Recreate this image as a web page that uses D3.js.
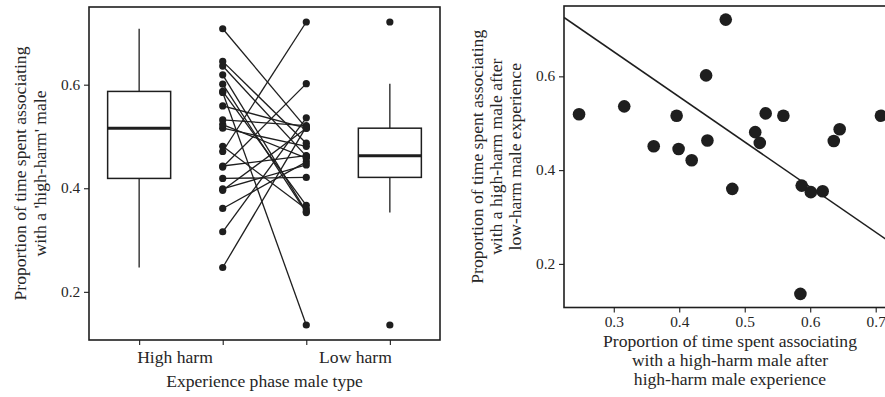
<!DOCTYPE html>
<html>
<head>
<meta charset="utf-8">
<script src="https://cdn.jsdelivr.net/npm/d3@7"></script>
<style>
  html, body { margin: 0; padding: 0; background: #fff; }
  svg { display: block; }
  text { font-family: "Liberation Serif", "Times New Roman", serif; fill: #262626; }
</style>
</head>
<body>
<svg id="chart"></svg>
<script>
// proportion of time with the high-harm male, one value per female
const highHarm = [0.247, 0.316, 0.361, 0.396, 0.399, 0.419, 0.441, 0.443, 0.471, 0.481, 0.516,
                  0.523, 0.532, 0.559, 0.587, 0.601, 0.619, 0.585, 0.636, 0.645, 0.708];
const lowHarm  = [0.519, 0.536, 0.451, 0.516, 0.445, 0.421, 0.602, 0.463, 0.721, 0.360, 0.481,
                  0.458, 0.521, 0.516, 0.367, 0.353, 0.355, 0.136, 0.462, 0.487, 0.516];
const categories = ['High harm', 'Low harm'];
const yTicks = [0.2, 0.4, 0.6];
const xTicksRight = [0.3, 0.4, 0.5, 0.6, 0.7];
// fitted line on the right panel
const lineIntercept = 0.941;
const lineSlope = -0.962;

const width = 885, height = 397;
const ink = '#1e1e1e';
const stretch = 1.1;

const svg = d3.select('#chart').attr('width', width).attr('height', height);

function label(g, x, y, str, opts = {}) {
  const rot = opts.rotate ? ` rotate(${opts.rotate})` : '';
  return g.append('text')
    .attr('transform', `translate(${x},${y})${rot} scale(${stretch},1)`)
    .attr('text-anchor', opts.anchor || 'middle')
    .style('font-size', (opts.size || 16) + 'px')
    .text(str);
}

function styleAxis(sel, size) {
  sel.attr('font-family', '"Liberation Serif", serif').attr('font-size', size);
  sel.select('.domain').remove();
  sel.selectAll('line').attr('stroke', ink).attr('stroke-width', 1.1);
  sel.selectAll('text')
    .style('font-size', size + 'px')
    .style('font-family', '"Liberation Serif", serif')
    .attr('fill', '#262626')
    .attr('transform', `scale(${stretch},1)`);
}

function boxStats(values) {
  const s = values.slice().sort(d3.ascending);
  const q1 = d3.quantile(s, 0.25), med = d3.quantile(s, 0.5), q3 = d3.quantile(s, 0.75);
  const iqr = q3 - q1;
  const lo = d3.min(s.filter(v => v >= q1 - 1.5 * iqr));
  const hi = d3.max(s.filter(v => v <= q3 + 1.5 * iqr));
  const out = s.filter(v => v < lo || v > hi);
  return { q1, med, q3, lo, hi, out };
}

// ---------- left panel: boxplots and paired points ----------
const L = { left: 89, right: 440, top: 7, bottom: 340 };
const gL = svg.append('g');

const xL = d3.scaleLinear().domain([0.4, 4.6]).range([L.left, L.right]);
const yL = d3.scaleLinear().domain([0.107, 0.750]).range([L.bottom, L.top]);

const boxHalf = 0.377;
function drawBox(values, pos) {
  const b = boxStats(values);
  const cx = xL(pos);
  const x0 = xL(pos - boxHalf), x1 = xL(pos + boxHalf);
  gL.append('line').attr('x1', cx).attr('x2', cx).attr('y1', yL(b.hi)).attr('y2', yL(b.q3))
    .attr('stroke', ink).attr('stroke-width', 1.3);
  gL.append('line').attr('x1', cx).attr('x2', cx).attr('y1', yL(b.q1)).attr('y2', yL(b.lo))
    .attr('stroke', ink).attr('stroke-width', 1.3);
  gL.append('rect').attr('x', x0).attr('y', yL(b.q3))
    .attr('width', x1 - x0).attr('height', yL(b.q1) - yL(b.q3))
    .attr('fill', '#fff').attr('stroke', ink).attr('stroke-width', 1.5);
  gL.append('line').attr('x1', x0).attr('x2', x1).attr('y1', yL(b.med)).attr('y2', yL(b.med))
    .attr('stroke', ink).attr('stroke-width', 3);
  gL.selectAll(null).data(b.out).enter().append('circle')
    .attr('cx', cx).attr('cy', d => yL(d)).attr('r', 3.6).attr('fill', ink);
}
drawBox(highHarm, 1);
drawBox(lowHarm, 4);

const pairs = highHarm.map((h, i) => ({ h, l: lowHarm[i] }));
gL.selectAll('.pair').data(pairs).enter().append('line')
  .attr('x1', xL(2)).attr('x2', xL(3))
  .attr('y1', d => yL(d.h)).attr('y2', d => yL(d.l))
  .attr('stroke', ink).attr('stroke-width', 1.3);
gL.selectAll('.ph').data(highHarm).enter().append('circle')
  .attr('cx', xL(2)).attr('cy', d => yL(d)).attr('r', 3.6).attr('fill', ink);
gL.selectAll('.pl').data(lowHarm).enter().append('circle')
  .attr('cx', xL(3)).attr('cy', d => yL(d)).attr('r', 3.6).attr('fill', ink);

gL.append('rect').attr('x', L.left).attr('y', L.top)
  .attr('width', L.right - L.left).attr('height', L.bottom - L.top)
  .attr('fill', 'none').attr('stroke', ink).attr('stroke-width', 1.6);

gL.append('g').attr('transform', `translate(${L.left},0)`)
  .call(d3.axisLeft(yL).tickValues(yTicks).tickSize(5).tickPadding(3).tickFormat(d3.format('.1f')))
  .call(s => styleAxis(s, 14));
gL.append('g').attr('transform', `translate(0,${L.bottom})`)
  .call(d3.axisBottom(xL).tickValues([1, 2, 3, 4]).tickSize(5).tickFormat(''))
  .call(s => styleAxis(s, 14));

label(gL, xL(1) - 2, 363, categories[0], { anchor: 'start', size: 16 });
label(gL, xL(4) + 2, 363, categories[1], { anchor: 'end', size: 16 });
label(gL, (L.left + L.right) / 2, 387, 'Experience phase male type', { size: 16 });
label(gL, 26, (L.top + L.bottom) / 2, 'Proportion of time spent associating', { rotate: -90, size: 16 });
label(gL, 46, (L.top + L.bottom) / 2, "with a 'high-harm' male", { rotate: -90, size: 16 });

// ---------- right panel: scatter ----------
const R = { left: 564, right: 896, top: 6, bottom: 307.5 };
const gR = svg.append('g');

const xR = d3.scaleLinear().domain([0.224, 0.731]).range([R.left, R.right]);
const yR = d3.scaleLinear().domain([0.107, 0.750]).range([R.bottom, R.top]);

svg.append('defs').append('clipPath').attr('id', 'clipR')
  .append('rect').attr('x', R.left).attr('y', R.top)
  .attr('width', R.right - R.left).attr('height', R.bottom - R.top);

const lineX = xR.domain();
gR.append('line')
  .attr('clip-path', 'url(#clipR)')
  .attr('x1', xR(lineX[0])).attr('y1', yR(lineIntercept + lineSlope * lineX[0]))
  .attr('x2', xR(lineX[1])).attr('y2', yR(lineIntercept + lineSlope * lineX[1]))
  .attr('stroke', ink).attr('stroke-width', 1.5);

gR.selectAll('.dot').data(pairs).enter().append('circle')
  .attr('cx', d => xR(d.h)).attr('cy', d => yR(d.l)).attr('r', 6.3).attr('fill', ink);

gR.append('rect').attr('x', R.left).attr('y', R.top)
  .attr('width', R.right - R.left).attr('height', R.bottom - R.top)
  .attr('fill', 'none').attr('stroke', ink).attr('stroke-width', 1.6);

gR.append('g').attr('transform', `translate(${R.left},0)`)
  .call(d3.axisLeft(yR).tickValues(yTicks).tickSize(5).tickPadding(3).tickFormat(d3.format('.1f')))
  .call(s => styleAxis(s, 14));
gR.append('g').attr('transform', `translate(0,${R.bottom})`)
  .call(d3.axisBottom(xR).tickValues(xTicksRight).tickSize(5).tickPadding(5).tickFormat(d3.format('.1f')))
  .call(s => styleAxis(s, 14));

const cxR = (R.left + R.right) / 2;
label(gR, cxR, 347, 'Proportion of time spent associating', { size: 16 });
label(gR, cxR, 366, 'with a high-harm male after', { size: 16 });
label(gR, cxR, 385, 'high-harm male experience', { size: 16 });
const cyR = (R.top + R.bottom) / 2;
label(gR, 483, cyR, 'Proportion of time spent associating', { rotate: -90, size: 16 });
label(gR, 502, cyR, 'with a high-harm male after', { rotate: -90, size: 16 });
label(gR, 521, cyR, 'low-harm male experience', { rotate: -90, size: 16 });
</script>
</body>
</html>
